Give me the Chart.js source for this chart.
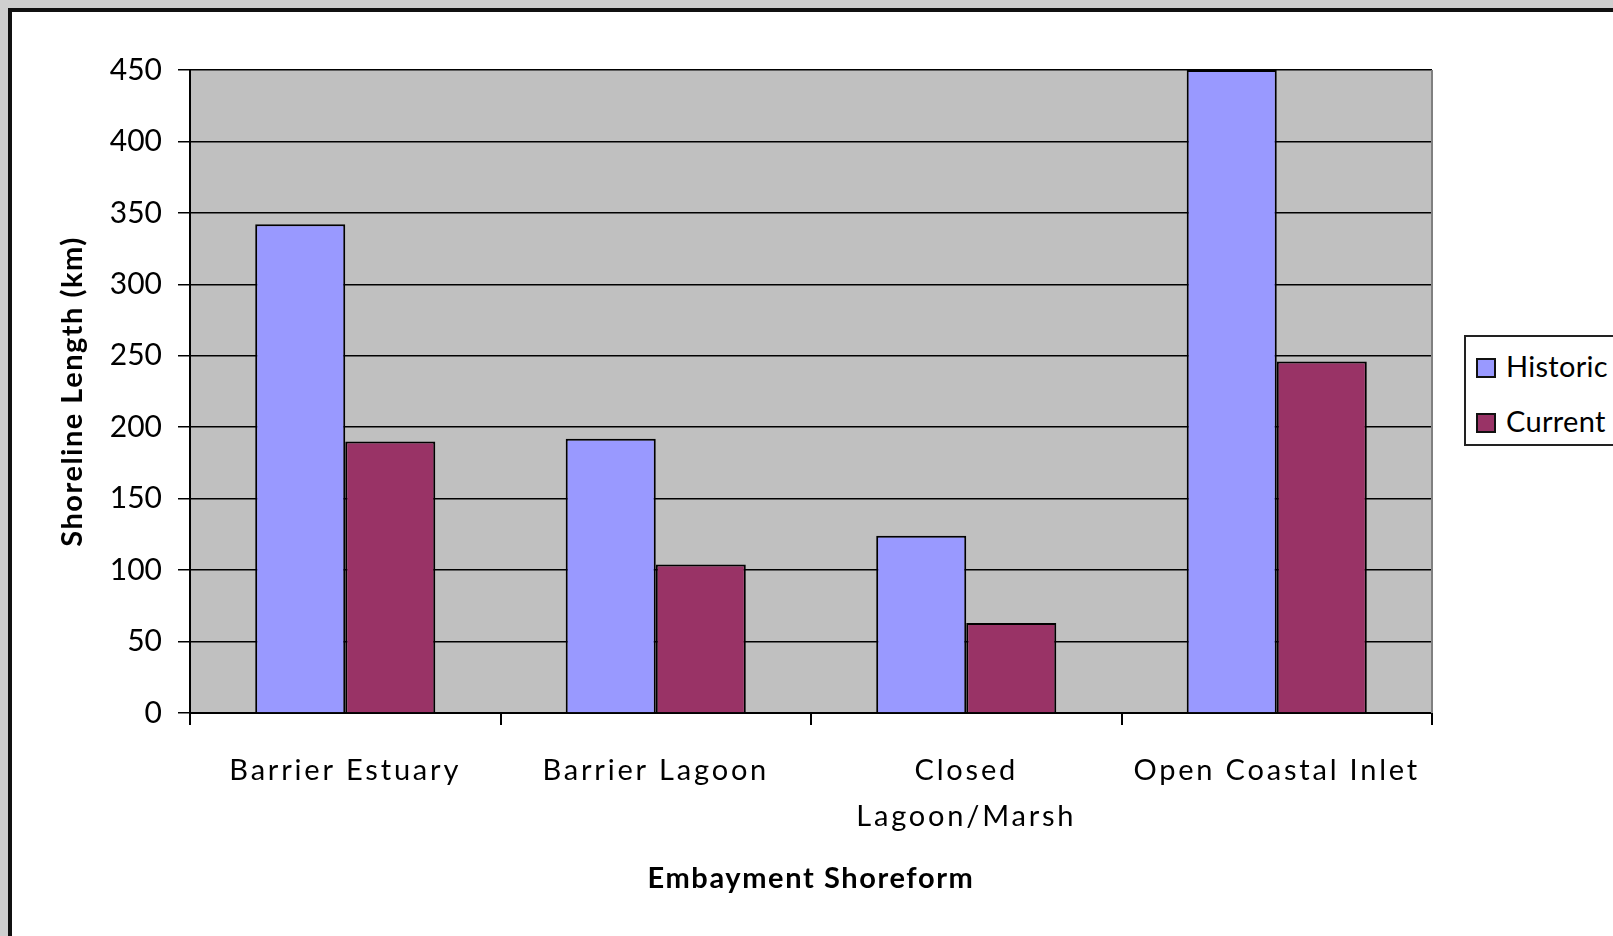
<!DOCTYPE html>
<html>
<head>
<meta charset="utf-8">
<script src="https://cdn.jsdelivr.net/npm/chart.js@4.4.1/dist/chart.umd.min.js"></script>
<style>
  html, body { margin: 0; padding: 0; overflow: hidden; background: #cfcfcf; }
  #frame {
    position: absolute; left: 8px; top: 8px; width: 2000px; height: 2000px;
    border: 4px solid #111; background: #fff;
  }
  #chart { position: absolute; left: 0; top: 0; }
  #legend {
    position: absolute; left: 1464px; top: 335px; width: 200px; height: 107px;
    border: 2px solid #222; background: #fff;
    font-family: Lato, sans-serif; font-size: 29px; letter-spacing: 0.3px; color: #000;
  }
  .item { position: absolute; left: 10px; height: 30px; line-height: 30px; white-space: nowrap; }
  .swatch { display: inline-block; width: 16px; height: 16px; border: 2px solid #111; vertical-align: middle; margin-right: 10px; position: relative; top: -2px; }
</style>
</head>
<body>
<div id="frame"></div>
<canvas id="chart" width="1613" height="936"></canvas>
<div id="legend"></div>
<script>
const categories = ["Barrier Estuary", "Barrier Lagoon", ["Closed", "Lagoon/Marsh"], "Open Coastal Inlet"];
const historic = [342, 192, 124, 450];
const current = [190, 104, 63, 246];
const seriesNames = ["Historic", "Current"];
const seriesColors = ["#9999ff", "#993366"];
const yTicks = [0, 50, 100, 150, 200, 250, 300, 350, 400, 450];

const FONT = "Lato, sans-serif";

// the source text is a bit letter-spaced; patch the scale draw calls to add it
function spaced(scale, labelSp, titleSp) {
  if (scale._spaced) return;
  scale._spaced = true;
  const dl = scale.drawLabels.bind(scale);
  const dt = scale.drawTitle.bind(scale);
  scale.drawLabels = (a) => { scale.ctx.letterSpacing = labelSp; dl(a); scale.ctx.letterSpacing = "0px"; };
  scale.drawTitle = (a) => { scale.ctx.letterSpacing = titleSp; dt(a); scale.ctx.letterSpacing = "0px"; };
}

const plotBg = {
  id: "plotBg",
  beforeDraw(chart) {
    const { ctx, chartArea: a } = chart;
    ctx.save();
    ctx.fillStyle = "#c0c0c0";
    ctx.fillRect(a.left, a.top, a.right - a.left, a.bottom - a.top);
    ctx.restore();
  },
  afterDatasetsDraw(chart) {
    const { ctx, chartArea: a } = chart;
    ctx.save();
    ctx.strokeStyle = "#808080";
    ctx.lineWidth = 2;
    ctx.beginPath();
    ctx.moveTo(a.right, a.top);
    ctx.lineTo(a.right, a.bottom);
    ctx.stroke();
    ctx.restore();
  },
};

const ctx = document.getElementById("chart").getContext("2d");
new Chart(ctx, {
  type: "bar",
  data: {
    labels: categories,
    datasets: [
      { label: seriesNames[0], data: historic, backgroundColor: seriesColors[0], borderColor: "#000", borderWidth: 2 },
      { label: seriesNames[1], data: current, backgroundColor: seriesColors[1], borderColor: "#000", borderWidth: 2 },
    ],
  },
  options: {
    responsive: false,
    animation: false,
    layout: { padding: { top: 70, right: 181, left: 0, bottom: 0 } },
    datasets: { bar: { categoryPercentage: 0.58, barPercentage: 1 } },
    plugins: { legend: { display: false }, tooltip: { enabled: false } },
    scales: {
      x: {
        afterFit: (s) => { s.height = 223; spaced(s, "2.8px", "1.6px"); },
        grid: { offset: true, drawOnChartArea: false, color: "#000", lineWidth: 2, tickLength: 12 },
        border: { color: "#000", width: 2 },
        ticks: { color: "#000", font: { family: FONT, size: 29, lineHeight: 1.6 }, padding: 22, maxRotation: 0, autoSkip: false },
        title: { display: true, text: "Embayment Shoreform", color: "#000", font: { family: FONT, size: 29, weight: "bold", lineHeight: 1.2 }, padding: { top: 0, bottom: 40 } },
      },
      y: {
        min: 0, max: 450,
        afterFit: (s) => { s.width = 190; spaced(s, "0px", "1.5px"); },
        afterBuildTicks: (s) => { s.ticks = yTicks.map((v) => ({ value: v })); },
        grid: { color: "#000", lineWidth: 1.5, tickLength: 12 },
        border: { color: "#000", width: 2 },
        ticks: { color: "#000", font: { family: FONT, size: 30 }, padding: 16 },
        title: { display: true, text: "Shoreline Length (km)", color: "#000", font: { family: FONT, size: 29, weight: "bold", lineHeight: 1.2 }, padding: { top: 55, bottom: 0 } },
      },
    },
  },
  plugins: [plotBg],
});

const legend = document.getElementById("legend");
seriesNames.forEach((name, i) => {
  const it = document.createElement("div");
  it.className = "item";
  it.style.top = (i === 0 ? 14 : 69) + "px";
  it.innerHTML = '<span class="swatch" style="background:' + seriesColors[i] + '"></span>' + name;
  legend.appendChild(it);
});
</script>
</body>
</html>
